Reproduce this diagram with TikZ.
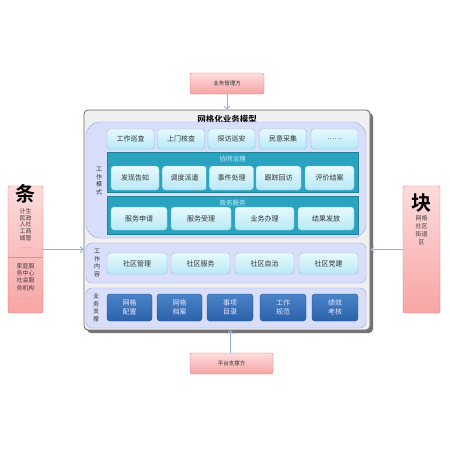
\documentclass[tikz,border=0pt]{standalone}
\usepackage{fontspec}
\setmainfont{Noto Sans CJK SC}[BoldFont={* Bold}]
\usetikzlibrary{arrows.meta}

\definecolor{pinktop}{HTML}{FDDCDC}
\definecolor{pinkbot}{HTML}{F8A4A4}
\definecolor{pinkline}{HTML}{D77A7A}
\definecolor{panelfill}{HTML}{D9DEFA}
\definecolor{panelline}{HTML}{8EA6E6}
\definecolor{celltop}{HTML}{E6FAFE}
\definecolor{cellbot}{HTML}{B8E8F6}
\definecolor{cellline}{HTML}{7CC6DE}
\definecolor{teal}{HTML}{29A3C0}
\definecolor{darktop}{HTML}{4A83C8}
\definecolor{darkbot}{HTML}{2C62AA}
\definecolor{linkcol}{HTML}{8FB0E0}

\tikzset{
  party/.style={draw=pinkline, rounded corners=2pt, top color=pinktop, bottom color=pinkbot,
    font=\fontsize{5.5}{6}\selectfont, text=black!80},
  panel/.style={draw=panelline, fill=panelfill, rounded corners=6pt},
  cell/.style={draw=cellline, rounded corners=3pt, top color=celltop, bottom color=cellbot,
    font=\fontsize{7}{8}\selectfont, text=black!80, inner sep=0pt},
  darkcell/.style={draw=darkbot!80!black, rounded corners=3pt, top color=darktop, bottom color=darkbot,
    font=\fontsize{7}{8.5}\selectfont, text=blue!10, align=center, inner sep=0pt},
  band/.style={fill=teal, draw=teal!80!black},
  vlabel/.style={font=\fontsize{6}{7.5}\selectfont, align=center, text=black!80},
  sidetext/.style={font=\fontsize{6}{6.6}\selectfont, align=center, text=black!75, anchor=north, inner sep=0pt},
  link/.style={draw=linkcol, thick, -{Straight Barb[length=3pt]}}
}

\begin{document}
\begin{tikzpicture}[x=1pt,y=-1pt]
    \useasboundingbox[fill=white] (0,0) rectangle (450,450);

    % Outer Parties
    \node[party, minimum width=74pt, minimum height=21pt] (top) at (227,83.5) {业务管理方};
    \node[party, minimum width=83pt, minimum height=21pt] (bottom) at (231.5,363.5) {平台支撑方};
    \node[party, minimum width=35pt, minimum height=127pt] (tiao) at (25.5,249.5) {};
    \node[party, minimum width=37pt, minimum height=127pt] (kuai) at (421.5,249.5) {};

    % Main Box
    \fill[black!55, rounded corners=4pt] (87,113) rectangle (373,333);
    \node[draw=black!60, fill=black!6, thick, rounded corners=4pt,
      minimum width=286pt, minimum height=220pt] (main) at (227,220) {};
    \node[font=\bfseries\fontsize{8.5}{9}\selectfont] (title) at (227,119) {网格化业务模型};

    % Connectors
    \draw[link] (top) -- (main.north);
    \draw[link] (bottom.north -| 230,0) -- (230,330);
    \coordinate (lin) at (main.west |- tiao.east);
    \coordinate (rin) at (main.east |- kuai.west);
    \draw[link] (tiao.east) -- (lin);
    \draw[link] (kuai.west) -- (rin);

    % Work Mode Panel
    \node[panel, rounded corners=14pt, minimum width=280pt, minimum height=116pt] (mode) at (226,180) {};
    \node[vlabel] (modelab) at (99,181) {工\\作\\模\\式};

    % -- row one
    \node[cell, minimum width=47pt, minimum height=20pt] (c11) at (130.5,139) {工作巡查};
    \node[cell, minimum width=47pt, minimum height=20pt] (c12) at (181,139) {上门核查};
    \node[cell, minimum width=47pt, minimum height=20pt] (c13) at (231.5,139) {探访巡安};
    \node[cell, minimum width=47pt, minimum height=20pt] (c14) at (283,139) {民意采集};
    \node[cell, minimum width=47pt, minimum height=20pt] (c15) at (334.5,139) {……};

    % -- cooperative governance
    \node[band, minimum width=251pt, minimum height=40pt] (gov) at (232.5,172) {};
    \node[font=\fontsize{6.5}{7}\selectfont, text=cyan!20] (govlab) at (232.5,159) {协同治理};
    \node[cell, minimum width=48pt, minimum height=24pt] (c21) at (135,178) {发现告知};
    \node[cell, minimum width=44pt, minimum height=24pt] (c22) at (184.5,178) {调度派遣};
    \node[cell, minimum width=44pt, minimum height=24pt] (c23) at (231.5,178) {事件处理};
    \node[cell, minimum width=45pt, minimum height=24pt] (c24) at (278.5,178) {跟踪回访};
    \node[cell, minimum width=49pt, minimum height=24pt] (c25) at (329.5,178) {评价结案};

    % -- government service
    \node[band, minimum width=251pt, minimum height=38pt] (srv) at (232.5,215) {};
    \node[font=\fontsize{6.5}{7}\selectfont, text=cyan!20] (srvlab) at (232.5,203) {政务服务};
    \node[cell, minimum width=56pt, minimum height=23pt] (c31) at (139,218.5) {服务申请};
    \node[cell, minimum width=60pt, minimum height=23pt] (c32) at (201,218.5) {服务受理};
    \node[cell, minimum width=59pt, minimum height=23pt] (c33) at (264.5,218.5) {业务办理};
    \node[cell, minimum width=56pt, minimum height=23pt] (c34) at (326,218.5) {结果发放};

    % Work Content Panel
    \node[panel, minimum width=280pt, minimum height=40pt] (content) at (226,263) {};
    \node[vlabel] (contentlab) at (97,263) {工\\作\\内\\容};
    \node[cell, minimum width=60pt, minimum height=21pt] (c41) at (137,263.5) {社区管理};
    \node[cell, minimum width=59pt, minimum height=21pt] (c42) at (200.5,263.5) {社区服务};
    \node[cell, minimum width=59pt, minimum height=21pt] (c43) at (264.5,263.5) {社区自治};
    \node[cell, minimum width=59pt, minimum height=21pt] (c44) at (328.5,263.5) {社区党建};

    % Business Support Panel
    \node[panel, minimum width=280pt, minimum height=40pt] (support) at (226,308) {};
    \node[vlabel] (supportlab) at (96,308) {业\\务\\支\\撑};
    \node[darkcell, minimum width=45pt, minimum height=27pt] (c51) at (129.5,307.5) {网格\\配置};
    \node[darkcell, minimum width=45pt, minimum height=27pt] (c52) at (179.5,307.5) {网格\\档案};
    \node[darkcell, minimum width=46pt, minimum height=27pt] (c53) at (230,307.5) {事项\\目录};
    \node[darkcell, minimum width=46pt, minimum height=27pt] (c54) at (283,307.5) {工作\\规范};
    \node[darkcell, minimum width=46pt, minimum height=27pt] (c55) at (335,307.5) {绩效\\考核};

    % Side Texts
    % -- left side
    \node[font=\bfseries\fontsize{20}{20}\selectfont] (tiaochar) at (25.5,194) {条};
    \node[sidetext] (tiaoa) at (25.5,208.5)
      {计生\\民政\\人社\\工商\\城管\\[2pt]\textcolor{black!45}{……}};
    \draw[panelline] (tiao.west |- 0,257) -- (tiao.east |- 0,257);
    \node[sidetext, font=\fontsize{6}{7.1}\selectfont] (tiaob) at (25.5,263.5)
      {家庭服\\务中心\\社会服\\务机构\\[2pt]\textcolor{black!45}{……}};

    % -- right side
    \node[font=\bfseries\fontsize{20}{20}\selectfont] (kuaichar) at (421.5,203) {块};
    \node[sidetext, font=\fontsize{6}{8}\selectfont] (kuaia) at (421.5,215.5)
      {网格\\社区\\街道\\区};
\end{tikzpicture}
\end{document}
